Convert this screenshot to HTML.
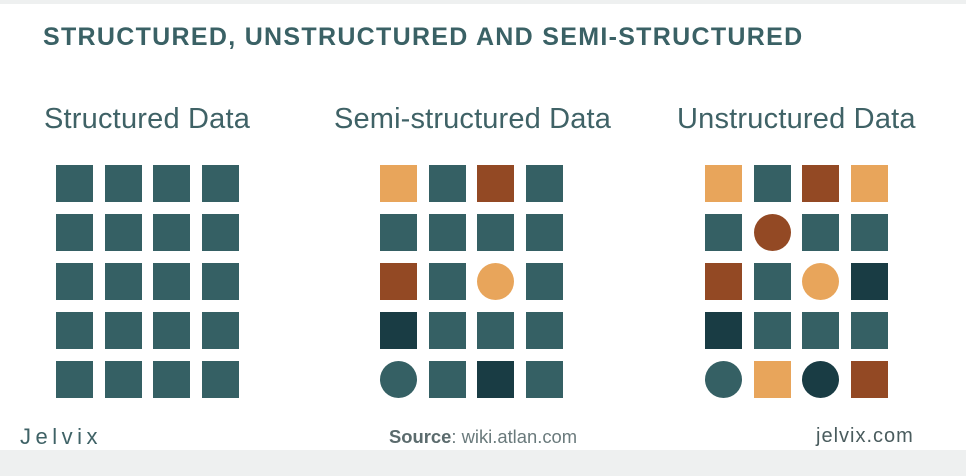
<!DOCTYPE html>
<html><head><style>
body{margin:0;width:966px;height:476px;background:#fff;position:relative;overflow:hidden;font-family:"Liberation Sans",sans-serif}
.t{position:absolute;white-space:nowrap}
.s{position:absolute;width:37px;height:37px}
.c{border-radius:50%}
</style></head><body>
<div style="position:absolute;left:0;top:0;width:966px;height:4px;background:#eef0f0"></div>
<div style="position:absolute;left:0;top:450px;width:966px;height:26px;background:#eef0f0"></div>
<div class="t" style="left:43px;top:23px;font-size:25px;font-weight:bold;color:#3a6165;letter-spacing:1.3px">STRUCTURED, UNSTRUCTURED AND SEMI-STRUCTURED</div>
<div class="t" style="left:44px;top:103px;font-size:29px;color:#3f6266;letter-spacing:0.2px">Structured Data</div>
<div class="t" style="left:334px;top:103px;font-size:29px;color:#3f6266;letter-spacing:0.15px">Semi-structured Data</div>
<div class="t" style="left:677px;top:103px;font-size:29px;color:#3f6266;letter-spacing:0.2px">Unstructured Data</div>
<div class="t" style="left:20px;top:424px;font-size:22px;color:#3f6266;letter-spacing:4.5px">Jelvix</div>
<div class="t" style="left:389px;top:426px;font-size:18.4px;color:#6a7a7c"><b style="color:#5b6b6d">Source</b>: wiki.atlan.com</div>
<div class="t" style="left:816px;top:425px;font-size:20px;color:#4a5c5e;letter-spacing:1px">jelvix.com</div>
<div id="g"></div>
<script>
var C={T:'#356064',O:'#e8a55b',B:'#934924',D:'#193c44'};
var grids=[[56,["TTTT","TTTT","TTTT","TTTT","TTTT"]],
[380,["OTBT","TTTT","BToT","DTTT","tTDT"]],
[705,["OTBO","TbTT","BToD","DTTT","tOdB"]]];
var h='',xs=[0,49,97,146],ys=[165,214,263,312,361];
grids.forEach(function(g){g[1].forEach(function(r,i){for(var j=0;j<4;j++){var ch=r[j],circ=ch==ch.toLowerCase();var col=C[ch.toUpperCase()];
h+='<div class="s'+(circ?' c':'')+'" style="left:'+(g[0]+xs[j])+'px;top:'+ys[i]+'px;background:'+col+'"></div>';}});});
document.getElementById('g').innerHTML=h;
</script>
</body></html>
